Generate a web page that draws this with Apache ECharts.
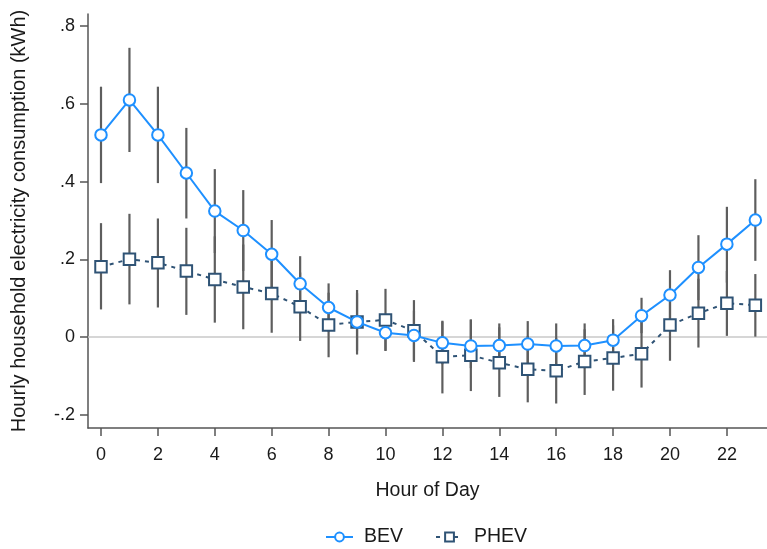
<!DOCTYPE html>
<html>
<head>
<meta charset="utf-8">
<script src="https://cdn.jsdelivr.net/npm/echarts@6/dist/echarts.min.js"></script>
<style>html,body{margin:0;padding:0;background:#fff;}#c{width:767px;height:549px;}</style>
</head>
<body>
<div id="c"></div>
<script>
var hours = [0,1,2,3,4,5,6,7,8,9,10,11,12,13,14,15,16,17,18,19,20,21,22,23];
var xTicks = [0,2,4,6,8,10,12,14,16,18,20,22];
var yTicks = [-0.2,0,0.2,0.4,0.6,0.8];
var bev = [0.52,0.61,0.52,0.422,0.324,0.274,0.213,0.137,0.076,0.039,0.011,0.004,-0.015,-0.023,-0.022,-0.018,-0.023,-0.022,-0.008,0.055,0.108,0.179,0.239,0.301];
var bevLo = [0.396,0.476,0.396,0.305,0.216,0.17,0.125,0.066,0.014,-0.035,-0.035,-0.06,-0.07,-0.08,-0.08,-0.075,-0.08,-0.08,-0.062,0.01,0.045,0.095,0.14,0.196];
var bevHi = [0.644,0.744,0.644,0.538,0.432,0.378,0.301,0.208,0.138,0.113,0.057,0.068,0.042,0.045,0.035,0.041,0.035,0.035,0.046,0.101,0.172,0.262,0.335,0.406];
var phev = [0.181,0.2,0.191,0.17,0.148,0.129,0.112,0.078,0.031,0.039,0.044,0.016,-0.051,-0.047,-0.066,-0.083,-0.087,-0.063,-0.054,-0.043,0.031,0.061,0.087,0.082];
var phevLo = [0.071,0.084,0.076,0.057,0.037,0.02,0.011,-0.01,-0.052,-0.045,-0.036,-0.064,-0.145,-0.139,-0.154,-0.168,-0.171,-0.149,-0.138,-0.13,-0.061,-0.027,0.003,0.001];
var phevHi = [0.293,0.317,0.305,0.281,0.259,0.238,0.213,0.166,0.114,0.121,0.124,0.095,0.04,0.045,0.025,0.003,-0.003,0.02,0.03,0.045,0.12,0.15,0.17,0.162];

var FONT = 'Liberation Sans';
var TXT = '#1a1a1a';
function errData(lo, hi) {
  return hours.map(function (h, i) { return [h, lo[i], hi[i]]; });
}
function errRender(params, api) {
  var p1 = api.coord([api.value(0), api.value(1)]);
  var p2 = api.coord([api.value(0), api.value(2)]);
  return {
    type: 'line',
    shape: {x1: p1[0], y1: p1[1], x2: p2[0], y2: p2[1]},
    style: {stroke: '#5e5e5e', lineWidth: 2.2}
  };
}
var chart = echarts.init(document.getElementById('c'), null, {renderer: 'canvas'});
chart.setOption({
  animation: false,
  backgroundColor: '#ffffff',
  textStyle: {fontFamily: FONT},
  grid: {left: 88, right: 0, top: 14, bottom: 121},
  legend: {
    top: 527,
    left: 325,
    padding: 0,
    itemWidth: 27,
    itemHeight: 11,
    itemGap: 32,
    data: ['BEV', 'PHEV'],
    textStyle: {fontFamily: FONT, fontSize: 19.5, color: TXT, padding: [0, 0, 0, 6]}
  },
  xAxis: {
    type: 'value',
    min: -0.457,
    max: 23.41,
    name: 'Hour of Day',
    nameLocation: 'middle',
    nameGap: 53,
    nameTextStyle: {fontFamily: FONT, fontSize: 19.5, color: TXT},
    axisLine: {show: true, onZero: false, lineStyle: {color: '#555', width: 1.5}},
    axisTick: {show: true, length: 8, customValues: xTicks, lineStyle: {color: '#555', width: 1.5}},
    axisLabel: {customValues: xTicks, margin: 18, fontFamily: FONT, fontSize: 18, color: TXT},
    splitLine: {show: false}
  },
  yAxis: {
    type: 'value',
    min: -0.234,
    max: 0.831,
    name: 'Hourly household electricity consumption (kWh)',
    nameLocation: 'middle',
    nameGap: 59,
    nameTextStyle: {fontFamily: FONT, fontSize: 20, color: TXT},
    axisLine: {show: true, onZero: false, lineStyle: {color: '#555', width: 1.5}},
    axisTick: {show: true, length: 8, customValues: yTicks, lineStyle: {color: '#555', width: 1.5}},
    axisLabel: {
      customValues: yTicks, margin: 13, fontFamily: FONT, fontSize: 18, color: TXT,
      formatter: function (v) {
        if (Math.abs(v) < 1e-9) return '0';
        var s = (Math.round(v * 10) / 10).toString();
        return s.replace('0.', '.');
      }
    },
    splitLine: {show: false}
  },
  series: [
    {
      type: 'custom', name: 'bevCI', renderItem: errRender, data: errData(bevLo, bevHi),
      encode: {x: 0, y: [1, 2]}, z: 1, silent: true
    },
    {
      type: 'custom', name: 'phevCI', renderItem: errRender, data: errData(phevLo, phevHi),
      encode: {x: 0, y: [1, 2]}, z: 1, silent: true
    },
    {
      type: 'line', name: 'zero', data: [[-0.457, 0], [23.41, 0]], showSymbol: false, symbol: 'none',
      lineStyle: {color: '#c8c8c8', width: 1.5}, z: 0, silent: true
    },
    {
      type: 'line', name: 'BEV',
      data: hours.map(function (h, i) { return [h, bev[i]]; }),
      symbol: 'circle', symbolSize: 11.5, showAllSymbol: true,
      itemStyle: {color: '#ffffff', borderColor: '#1E90FF', borderWidth: 2},
      lineStyle: {color: '#1E90FF', width: 2},
      color: '#1E90FF', z: 3
    },
    {
      type: 'line', name: 'PHEV',
      data: hours.map(function (h, i) { return [h, phev[i]]; }),
      symbol: 'rect', symbolSize: 11.5, showAllSymbol: true,
      itemStyle: {color: '#ffffff', borderColor: '#2F5375', borderWidth: 2},
      lineStyle: {color: '#2F5375', width: 2, type: [4, 5]},
      color: '#2F5375', z: 2
    }
  ]
});
</script>
</body>
</html>
